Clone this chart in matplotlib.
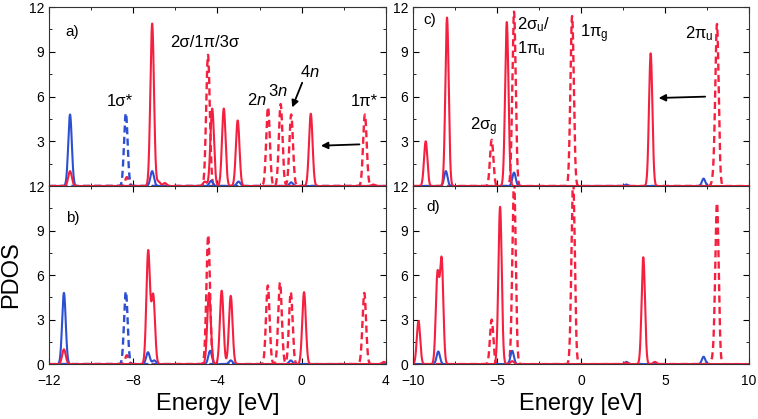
import numpy as np
import matplotlib
matplotlib.use('Agg')
import matplotlib.pyplot as plt
from matplotlib.ticker import MultipleLocator

plt.rcParams['font.family'] = ['Liberation Sans', 'DejaVu Sans']
plt.rcParams['mathtext.fontset'] = 'custom'
plt.rcParams['mathtext.rm'] = 'Liberation Sans'
plt.rcParams['mathtext.it'] = 'Liberation Sans:italic'

RED = '#f5203f'
BLUE = '#2d4fd2'

# peak positions (eV) and heights
# panel a)
a_red_solid_e = [-11.0, -7.1, -6.8, -6.5, -4.6, -4.25, -3.7, -3.04, 0.43, 3.4]
a_red_solid_h = [1.0, 10.9, 0.3, 0.2, 0.3, 5.2, 5.2, 4.4, 4.85, 0.1]
a_red_dash_e = [-8.3, -4.45, -1.6, -1.0, -0.5, 3.0]
a_red_dash_h = [0.6, 8.8, 5.3, 5.5, 4.8, 4.8]
a_blue_solid_e = [-11.0, -7.1, -4.3, -3.0, -0.5]
a_blue_solid_h = [4.8, 1.0, 0.35, 0.3, 0.25]
a_blue_dash_e = [-8.35]
a_blue_dash_h = [4.9]

# panel b)
b_red_solid_e = [-11.29, -7.29, -7.05, -4.4, -3.8, -3.37, 0.11, 3.9]
b_red_solid_h = [1.0, 7.6, 4.6, 4.8, 4.95, 4.6, 4.85, 0.15]
b_red_dash_e = [-8.3, -4.44, -1.61, -1.03, -0.52, 2.97]
b_red_dash_h = [0.6, 8.7, 5.3, 5.5, 4.85, 4.8]
b_blue_solid_e = [-11.29, -7.3, -7.0, -4.35, -3.37, -0.52]
b_blue_solid_h = [4.8, 0.8, 0.25, 0.9, 0.25, 0.25]
b_blue_dash_e = [-8.35]
b_blue_dash_h = [4.9]

# panel c)
c_red_solid_e = [-9.25, -7.98, -4.42, 4.15]
c_red_solid_h = [3.0, 11.3, 11.0, 8.9]
c_red_dash_e = [-5.32, -3.99, -0.53, 7.9, 8.1]
c_red_dash_h = [3.1, 11.7, 11.4, 0.5, 10.8]
c_blue_solid_e = [-8.05, -3.99, 2.7, 7.3]
c_blue_solid_h = [1.0, 0.9, 0.1, 0.5]

# panel d)
d_red_solid_e = [-9.68, -8.55, -8.3, -4.82, -4.1, 2.7, 3.71, 4.4]
d_red_solid_h = [2.9, 5.97, 6.95, 10.6, 0.2, 0.1, 7.2, 0.15]
d_red_dash_e = [-5.32, -3.99, -0.47, 7.9, 8.1]
d_red_dash_h = [3.0, 12.5, 12.5, 0.5, 10.8]
d_blue_solid_e = [-8.5, -4.1, 2.7, 7.3]
d_blue_solid_h = [0.85, 0.9, 0.15, 0.5]


def broaden(x, centres, heights, w):
    y = np.zeros_like(x)
    for c, h in zip(centres, heights):
        y += h * np.exp(-0.5 * ((x - c) / w) ** 2)
    return y


fig = plt.figure(figsize=(7.58, 4.19), dpi=100)
ax_a = fig.add_axes([0.0646, 0.556, 0.4446, 0.427])
ax_b = fig.add_axes([0.0646, 0.131, 0.4446, 0.425])
ax_c = fig.add_axes([0.545, 0.556, 0.443, 0.427])
ax_d = fig.add_axes([0.545, 0.131, 0.443, 0.425])

xl = np.linspace(-12, 4, 3000)
xr = np.linspace(-10, 10, 3000)
wl, wr = 0.085, 0.1
dash = (3, 1.8)
lwd = 1.7

ax_a.plot(xl, broaden(xl, a_red_dash_e, a_red_dash_h, wl), '--', color=RED, lw=lwd, dashes=dash)
ax_a.plot(xl, broaden(xl, a_blue_dash_e, a_blue_dash_h, wl), '--', color=BLUE, lw=lwd, dashes=dash)
ax_a.plot(xl, broaden(xl, a_blue_solid_e, a_blue_solid_h, wl), color=BLUE, lw=1.5)
ax_a.plot(xl, broaden(xl, a_red_solid_e, a_red_solid_h, wl), color=RED, lw=1.5)

ax_b.plot(xl, broaden(xl, b_red_dash_e, b_red_dash_h, wl), '--', color=RED, lw=lwd, dashes=dash)
ax_b.plot(xl, broaden(xl, b_blue_dash_e, b_blue_dash_h, wl), '--', color=BLUE, lw=lwd, dashes=dash)
ax_b.plot(xl, broaden(xl, b_blue_solid_e, b_blue_solid_h, wl), color=BLUE, lw=1.5)
ax_b.plot(xl, broaden(xl, b_red_solid_e, b_red_solid_h, wl), color=RED, lw=1.5)

ax_c.plot(xr, broaden(xr, c_red_dash_e, c_red_dash_h, wr), '--', color=RED, lw=lwd, dashes=dash)
ax_c.plot(xr, broaden(xr, c_blue_solid_e, c_blue_solid_h, wr), color=BLUE, lw=1.5)
ax_c.plot(xr, broaden(xr, c_red_solid_e, c_red_solid_h, wr), color=RED, lw=1.5)

ax_d.plot(xr, broaden(xr, d_red_dash_e, d_red_dash_h, wr), '--', color=RED, lw=lwd, dashes=dash)
ax_d.plot(xr, broaden(xr, d_blue_solid_e, d_blue_solid_h, wr), color=BLUE, lw=1.5)
ax_d.plot(xr, broaden(xr, d_red_solid_e, d_red_solid_h, wr), color=RED, lw=1.5)

for ax in [ax_a, ax_b, ax_c, ax_d]:
    ax.set_ylim(0, 12)
    ax.yaxis.set_major_locator(MultipleLocator(3))
    ax.yaxis.set_minor_locator(MultipleLocator(1.5))
    ax.tick_params(which='both', direction='in', top=True, right=True, labelsize=10)
    ax.tick_params(which='major', length=4)
    ax.tick_params(which='minor', length=2.5)
    ax.tick_params(axis='x', pad=7)
    for s in ax.spines.values():
        s.set_color('#333333')

for ax in [ax_a, ax_b]:
    ax.set_xlim(-12, 4)
    ax.xaxis.set_major_locator(MultipleLocator(4))
    ax.xaxis.set_minor_locator(MultipleLocator(2))
for ax in [ax_c, ax_d]:
    ax.set_xlim(-10, 10)
    ax.xaxis.set_major_locator(MultipleLocator(5))
    ax.xaxis.set_minor_locator(MultipleLocator(2.5))

# top panels: no x labels, y labels read 12 / 3 / 6 / 9 / 12
for ax in [ax_a, ax_c]:
    ax.tick_params(labelbottom=False)
    ax.set_yticks([0, 3, 6, 9, 12])
    ax.set_yticklabels(['12', '3', '6', '9', '12'])
for ax in [ax_b, ax_d]:
    ax.set_yticks([0, 3, 6, 9])
    ax.set_xlabel('Energy [eV]', fontsize=17, labelpad=4)

ax_b.set_ylabel('PDOS', fontsize=17, labelpad=10)

# panel labels
ax_a.text(0.05, 0.86, 'a)', transform=ax_a.transAxes, fontsize=11, va='center')
ax_b.text(0.05, 0.82, 'b)', transform=ax_b.transAxes, fontsize=11, va='center')
ax_c.text(0.03, 0.93, 'c)', transform=ax_c.transAxes, fontsize=11, va='center')
ax_d.text(0.04, 0.88, 'd)', transform=ax_d.transAxes, fontsize=11, va='center')

# orbital labels
ax_a.text(0.36, 0.80, '2σ/1π/3σ', transform=ax_a.transAxes, fontsize=12, va='center')
ax_a.text(0.17, 0.47, '1σ*', transform=ax_a.transAxes, fontsize=12, va='center')
ax_a.text(0.587, 0.48, '2$\\mathit{n}$', transform=ax_a.transAxes, fontsize=12, va='center')
ax_a.text(0.65, 0.53, '3$\\mathit{n}$', transform=ax_a.transAxes, fontsize=12, va='center')
ax_a.text(0.745, 0.64, '4$\\mathit{n}$', transform=ax_a.transAxes, fontsize=12, va='center')
ax_a.text(0.895, 0.47, '1π*', transform=ax_a.transAxes, fontsize=12, va='center')
ax_a.annotate('', xy=(-0.5, 5.1), xytext=(0.07, 7.1),
              arrowprops=dict(arrowstyle='-|>', color='black', lw=1.3, mutation_scale=10))
ax_a.annotate('', xy=(0.78, 2.7), xytext=(2.87, 2.8),
              arrowprops=dict(arrowstyle='-|>', color='black', lw=1.3, mutation_scale=10))

ax_c.text(0.17, 0.33, '2σ$_\\mathregular{g}$', transform=ax_c.transAxes, fontsize=12, va='center')
ax_c.text(0.31, 0.90, '2σ$_\\mathregular{u}$/', transform=ax_c.transAxes, fontsize=12, va='center')
ax_c.text(0.31, 0.77, '1π$_\\mathregular{u}$', transform=ax_c.transAxes, fontsize=12, va='center')
ax_c.text(0.497, 0.85, '1π$_\\mathregular{g}$', transform=ax_c.transAxes, fontsize=12, va='center')
ax_c.text(0.81, 0.85, '2π$_\\mathregular{u}$', transform=ax_c.transAxes, fontsize=12, va='center')
ax_c.annotate('', xy=(4.46, 5.9), xytext=(7.56, 6.0),
              arrowprops=dict(arrowstyle='-|>', color='black', lw=1.3, mutation_scale=10))

fig.savefig('out.png', dpi=100)
